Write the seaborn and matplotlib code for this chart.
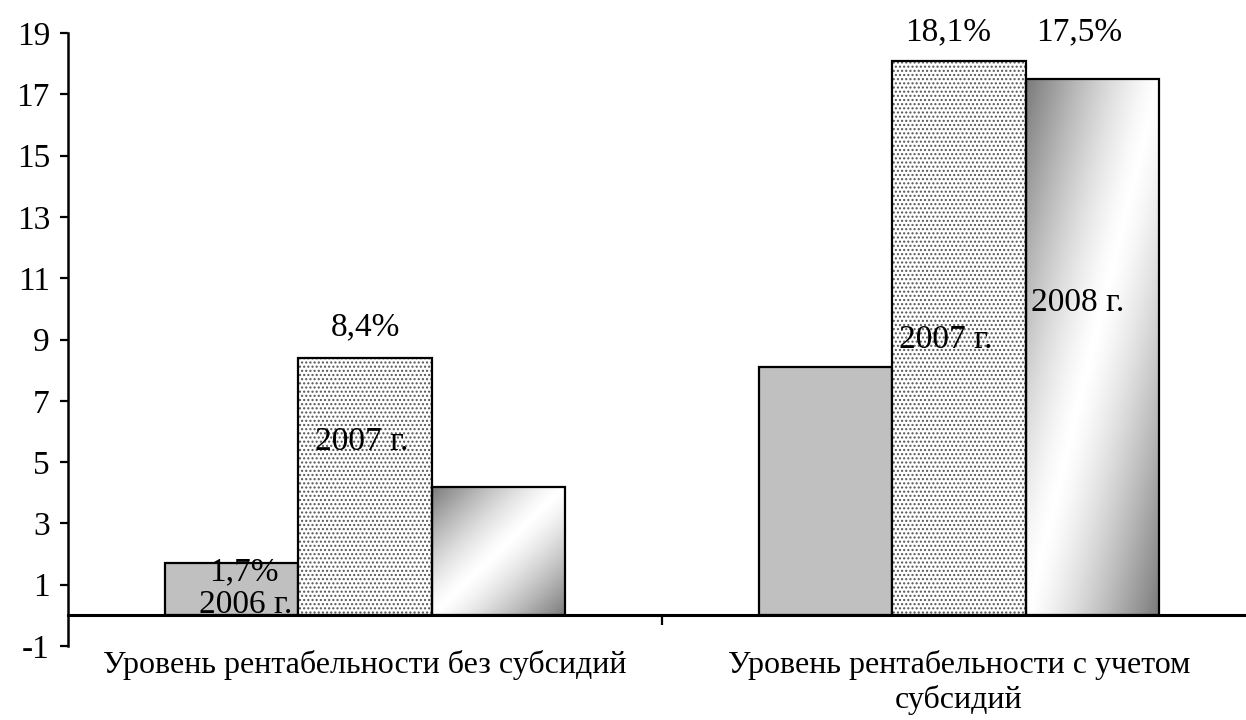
import numpy as np
import pandas as pd
import seaborn as sns
import matplotlib.pyplot as plt
from matplotlib.patches import Rectangle
from matplotlib.ticker import FixedLocator

# данные
categories = ["Уровень рентабельности без субсидий",
              "Уровень рентабельности с учетом\nсубсидий"]
years = ["2006 г.", "2007 г.", "2008 г."]
v2006 = [1.7, 8.1]
v2007 = [8.4, 18.1]
v2008 = [4.2, 17.5]

# подписи: (год, категория, текст, смещение по x, y)
labels = [
    (0, 0, "1,7%", 0.02, 1.42),
    (0, 0, "2006 г.", 0.023, 0.34),
    (1, 0, "8,4%", 0.0, 9.4),
    (1, 0, "2007 г.", -0.005, 5.65),
    (1, 1, "18,1%", -0.019, 19.03),
    (1, 1, "2007 г.", -0.022, 9.0),
    (2, 1, "17,5%", -0.022, 19.03),
    (2, 1, "2008 г.", -0.024, 10.2),
]

df = pd.DataFrame({
    "cat": categories * 3,
    "year": [y for y in years for _ in categories],
    "val": v2006 + v2007 + v2008,
})

sns.set_theme(style="white")
plt.rcParams["font.family"] = ["Liberation Serif", "DejaVu Serif"]
plt.rcParams["axes.unicode_minus"] = False
plt.rcParams["text.color"] = "black"
plt.rcParams["xtick.color"] = "black"
plt.rcParams["ytick.color"] = "black"
plt.rcParams["axes.edgecolor"] = "black"
FS = 24

fig = plt.figure(figsize=(12.46, 7.2), dpi=100)
ax = fig.add_axes([68 / 1246, 1 - 646 / 720, (1246 - 68) / 1246, (646 - 33) / 720])

sns.barplot(data=df, x="cat", y="val", hue="year", order=categories,
            hue_order=years, width=0.672, palette=["#c0c0c0", "white", "white"],
            edgecolor="black", linewidth=1.6, legend=False, saturation=1, ax=ax)

# 2007: точечная штриховка
plt.rcParams["hatch.linewidth"] = 1.5
for bar in ax.containers[1]:
    bar.set_hatch("....")
    bar.set_edgecolor("#555555")
    bar.set_linewidth(0)
    x, y = bar.get_xy()
    ax.add_patch(Rectangle((x, y), bar.get_width(), bar.get_height(),
                           fill=False, ec="black", lw=1.6, zorder=3))

# 2008: диагональный градиент
uu, ww = np.meshgrid(np.linspace(0, 1, 80), np.linspace(0, 1, 160))
t = (uu + ww) / 2
grad = 1 - 0.52 * np.abs(2 * t - 1) ** 1.3
for bar in ax.containers[2]:
    x, y = bar.get_xy()
    w, h = bar.get_width(), bar.get_height()
    im = ax.imshow(grad, extent=[x, x + w, y, y + h], origin="upper",
                   aspect="auto", cmap="gray", vmin=0, vmax=1,
                   interpolation="bilinear", zorder=1)
    im.set_clip_path(bar)
    bar.set_facecolor("none")
    bar.set_zorder(3)

ax.set_xlim(-0.5, -0.5 + (1246 - 68) / 594)
ax.set_ylim(-1, 19)

for yi, ci, txt, dx, ty in labels:
    bar = ax.containers[yi][ci]
    cx = bar.get_x() + bar.get_width() / 2 + dx
    ax.text(cx, ty, txt, ha="center", va="center", fontsize=FS, zorder=5)

# оси
sns.despine(ax=ax, top=True, right=True)
ax.spines["bottom"].set_position(("data", 0))
ax.spines["bottom"].set_linewidth(2.2)
ax.spines["left"].set_linewidth(1.8)
ax.spines["bottom"].set_zorder(4)
ax.set_yticks(range(-1, 20, 2))
ax.tick_params(axis="y", direction="out", length=6, width=1.6, labelsize=FS,
               left=True, pad=7)
ax.tick_params(axis="x", which="major", length=0, labelsize=23, pad=25)
ax.xaxis.set_minor_locator(FixedLocator([0.5]))
ax.tick_params(axis="x", which="minor", direction="out", length=7, width=1.6,
               bottom=True)
ax.set_xlabel("")
ax.set_ylabel("")

fig.savefig("out.png", dpi=100)
